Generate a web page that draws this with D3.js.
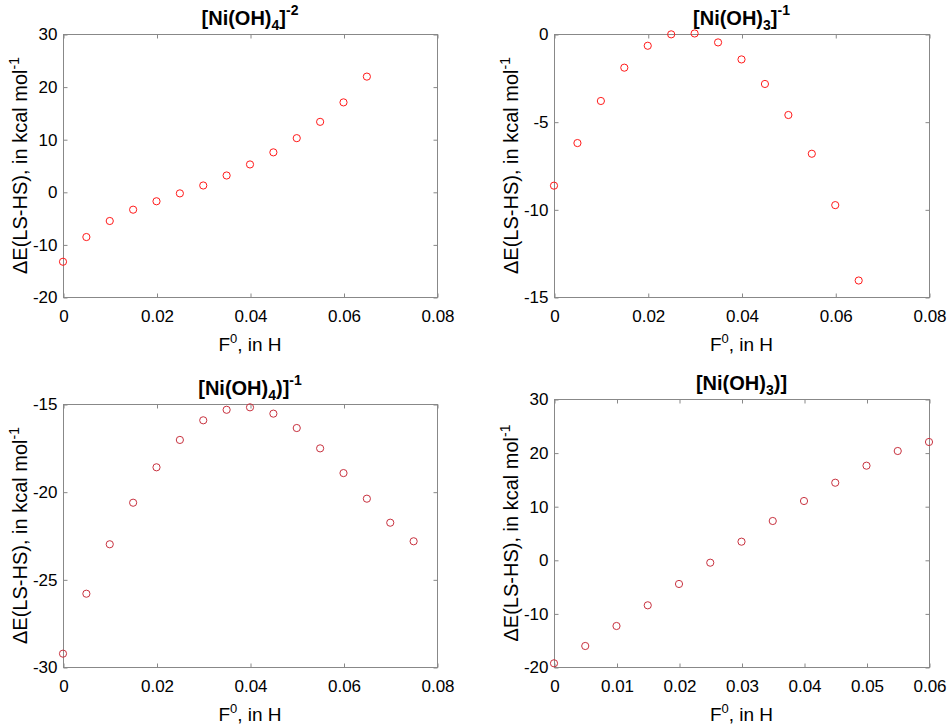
<!DOCTYPE html>
<html><head><meta charset="utf-8">
<script src="https://cdn.jsdelivr.net/npm/d3@7"></script>
<style>
body{margin:0;background:#fff}
svg{display:block}
text{font-family:"Liberation Sans",Arial,Helvetica,sans-serif;fill:#000}
</style>
</head><body>
<svg id="chart" width="950" height="725"></svg>
<script>
// ---- data (F0 in Hartree, ΔE in kcal/mol) ----
const fieldA = [0,0.005,0.01,0.015,0.02,0.025,0.03,0.035,0.04,0.045,0.05,0.055,0.06,0.065];
const fieldB = [0,0.005,0.01,0.015,0.02,0.025,0.03,0.035,0.04,0.045,0.05,0.055,0.06,0.065,0.07,0.075];
const fieldC = [0,0.005,0.01,0.015,0.02,0.025,0.03,0.035,0.04,0.045,0.05,0.055,0.06];
const niOH4_m2 = [-13.3,-8.6,-5.55,-3.4,-1.8,-0.3,1.2,3.1,5.2,7.5,10.2,13.3,17.0,21.9];
const niOH3_m1 = [-8.65,-6.22,-3.82,-1.92,-0.67,-0.02,0.03,-0.48,-1.45,-2.85,-4.62,-6.83,-9.76,-14.06];
const niOH4_m1 = [-29.24,-25.82,-23.0,-20.63,-18.61,-17.05,-15.93,-15.33,-15.19,-15.55,-16.37,-17.53,-18.94,-20.40,-21.77,-22.83];
const niOH3_0 = [-19.31,-16.08,-12.35,-8.49,-4.51,-0.54,3.38,7.24,10.97,14.38,17.56,20.3,21.98];
const xTicks08 = [0,0.02,0.04,0.06,0.08];
const xTicks06 = [0,0.01,0.02,0.03,0.04,0.05,0.06];
const yTicks1 = [-20,-10,0,10,20,30];
const yTicks2 = [-15,-10,-5,0];
const yTicks3 = [-30,-25,-20,-15];
const yTicks4 = [-20,-10,0,10,20,30];
const title1 = [["[Ni(OH)",""],["4","sub"],["]",""],["-2","sup"]];
const title2 = [["[Ni(OH)",""],["3","sub"],["]",""],["-1","sup"]];
const title3 = [["[Ni(OH)",""],["4","sub"],[")]",""],["-1","sup"]];
const title4 = [["[Ni(OH)",""],["3","sub"],[")]",""]];
const yLabelParts = [["ΔE(LS-HS), in kcal mol",""],["-1","sup"]];
const xLabelParts = [["F",""],["0","sup"],[", in H",""]];

const svg = d3.select("#chart");
const BOX = "#888888";

const panels = [
  {x0:63, x1:437, y0:34, y1:297, xd:[0,0.08], yd:[-20,30], xt:xTicks08, yt:yTicks1, xs:fieldA, ys:niOH4_m2, color:"#ff1a1a", title:title1},
  {x0:554, x1:929, y0:34, y1:297, xd:[0,0.08], yd:[-15,0], xt:xTicks08, yt:yTicks2, xs:fieldA, ys:niOH3_m1, color:"#ff1a1a", title:title2},
  {x0:63, x1:437, y0:404, y1:667, xd:[0,0.08], yd:[-30,-15], xt:xTicks08, yt:yTicks3, xs:fieldB, ys:niOH4_m1, color:"#c8323f", title:title3},
  {x0:554, x1:929, y0:399, y1:667, xd:[0,0.06], yd:[-20,30], xt:xTicks06, yt:yTicks4, xs:fieldC, ys:niOH3_0, color:"#c8323f", title:title4}
];

function richText(sel, parts, size, supSize, supShift, subShift) {
  let cur = 0;
  parts.forEach(([t, kind]) => {
    let target = 0, fs = size;
    if (kind === "sup") { target = -supShift; fs = supSize; }
    if (kind === "sub") { target = subShift; fs = supSize; }
    sel.append("tspan").attr("dy", target - cur).style("font-size", fs + "px").text(t);
    cur = target;
  });
}

const fmt = d => String(+d.toFixed(3));

panels.forEach(p => {
  const x = d3.scaleLinear().domain(p.xd).range([p.x0, p.x1]);
  const y = d3.scaleLinear().domain(p.yd).range([p.y1, p.y0]);
  const g = svg.append("g");

  g.append("rect").attr("x", p.x0 + 0.5).attr("y", p.y0 + 0.5)
    .attr("width", p.x1 - p.x0).attr("height", p.y1 - p.y0)
    .attr("fill", "none").attr("stroke", BOX).attr("stroke-width", 1);

  const styleAxis = (a) => {
    a.select(".domain").remove();
    a.selectAll(".tick line").attr("stroke", BOX);
    a.selectAll("text").style("font-size", "17px").attr("fill", "#000")
      .style("font-family", '"Liberation Sans",Arial,sans-serif');
  };

  g.append("g").attr("transform", `translate(0.5,${p.y1 + 0.5})`)
    .call(d3.axisBottom(x).tickValues(p.xt).tickFormat(fmt).tickSizeInner(-4).tickSizeOuter(0).tickPadding(12))
    .call(styleAxis);
  g.append("g").attr("transform", `translate(0.5,${p.y0 + 0.5})`)
    .call(d3.axisTop(x).tickValues(p.xt).tickFormat("").tickSizeInner(-4).tickSizeOuter(0))
    .call(styleAxis);
  g.append("g").attr("transform", `translate(${p.x0 + 0.5},0.5)`)
    .call(d3.axisLeft(y).tickValues(p.yt).tickFormat(fmt).tickSizeInner(-4).tickSizeOuter(0).tickPadding(6))
    .call(styleAxis);
  g.append("g").attr("transform", `translate(${p.x1 + 0.5},0.5)`)
    .call(d3.axisRight(y).tickValues(p.yt).tickFormat("").tickSizeInner(-4).tickSizeOuter(0))
    .call(styleAxis);

  g.append("g").selectAll("circle").data(p.xs.map((v, i) => [v, p.ys[i]])).join("circle")
    .attr("cx", d => x(d[0])).attr("cy", d => y(d[1])).attr("r", 3.6)
    .attr("fill", "none").attr("stroke", p.color).attr("stroke-width", 1);

  const cx = (p.x0 + p.x1) / 2;
  const tt = g.append("text").attr("x", cx).attr("y", p.y0 - 9)
    .attr("text-anchor", "middle").style("font-weight", "bold");
  richText(tt, p.title, 20, 14, 10, 5);

  const xl = g.append("text").attr("x", cx).attr("y", p.y1 + 54).attr("text-anchor", "middle");
  richText(xl, xLabelParts, 19, 13, 8, 0);

  const yc = (p.y0 + p.y1) / 2;
  const yl = g.append("text").attr("transform", `translate(${p.x0 - 36},${yc}) rotate(-90)`)
    .attr("text-anchor", "middle");
  richText(yl, yLabelParts, 20, 14, 8, 0);
});
</script>
</body></html>
